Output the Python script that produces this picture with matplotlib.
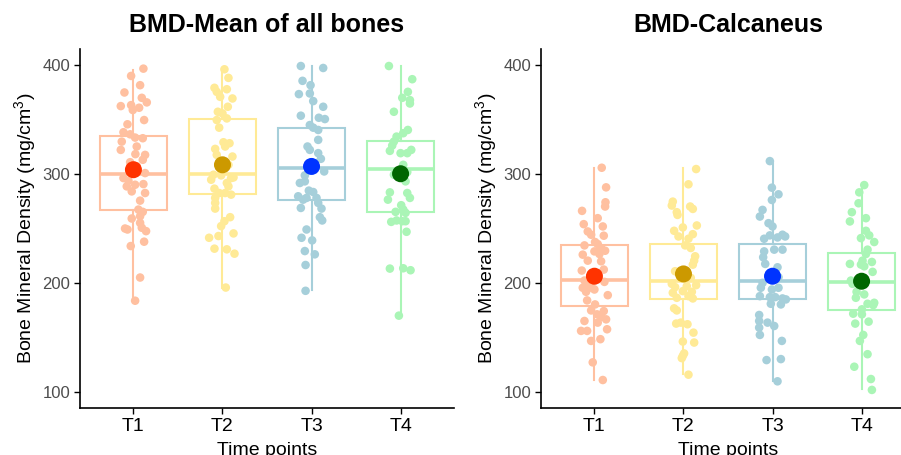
import matplotlib
matplotlib.use("Agg")
import matplotlib.pyplot as plt

plt.rcParams['font.family'] = ['Liberation Sans', 'DejaVu Sans']
plt.rcParams['mathtext.fontset'] = 'custom'
plt.rcParams['mathtext.rm'] = 'Liberation Sans'
plt.rcParams['mathtext.it'] = 'Liberation Sans:italic'

time_points = ["T1", "T2", "T3", "T4"]
titles = ["BMD-Mean of all bones", "BMD-Calcaneus"]
y_ticks = [100, 200, 300, 400]

point_colors = ["#FFC0A0", "#FFEA96", "#A6CFDA", "#AAF5B6"]
mean_colors = ["#FF3300", "#CC9900", "#0033FF", "#006600"]

# ---------------- BMD-Mean of all bones ----------------
bones_T1 = [396.6, 389.9, 381.4, 374.7, 369.8, 365.6, 362.2, 363.1, 360.7, 358.6,
            349.4, 345.5, 338.2, 336.3, 333.3, 332.7, 329.6, 325.1, 322.0, 317.4,
            318.1, 312.9, 310.7, 306.8, 300.7, 296.1, 293.7, 290.6, 288.5, 290.0,
            282.4, 283.9, 275.4, 267.2, 265.1, 261.1, 259.0, 255.0, 249.8, 248.9,
            250.5, 247.4, 237.7, 233.7, 204.8, 183.5]
bones_T1_jit = [0.112, -0.026, 0.075, -0.101, 0.094, 0.150, -0.142, -0.026, 0.064, -0.007,
                0.120, -0.067, -0.112, -0.037, 0.019, 0.105, -0.131, 0.037, -0.142, 0.131,
                0.022, 0.105, -0.037, 0.037, 0.131, -0.112, -0.056, 0.112, -0.075, 0.019,
                0.131, -0.019, 0.075, 0.056, 0.105, 0.075, -0.019, 0.075, -0.094, -0.067,
                0.094, 0.142, 0.120, -0.030, 0.075, 0.019]
bones_T2 = [396.0, 388.1, 379.0, 377.7, 375.3, 370.7, 369.2, 361.6, 357.0, 355.5,
            349.4, 350.9, 342.4, 329.0, 328.1, 322.9, 325.1, 315.9, 317.4, 308.3,
            299.2, 294.6, 298.6, 296.1, 291.6, 296.7, 288.5, 286.4, 282.4, 282.4,
            280.9, 277.9, 273.3, 268.1, 260.2, 256.5, 252.0, 245.3, 241.3, 242.9,
            231.3, 230.7, 226.7, 195.6]
bones_T2_jit = [0.022, 0.067, -0.090, 0.049, -0.064, -0.026, 0.112, 0.060, -0.052, 0.000,
                -0.064, 0.049, -0.037, 0.011, 0.079, -0.082, 0.030, 0.112, -0.064, 0.067,
                -0.101, -0.127, -0.015, 0.097, 0.049, 0.124, 0.067, -0.090, -0.037, 0.030,
                0.097, -0.082, -0.082, -0.082, 0.086, 0.022, -0.015, 0.124, -0.150, -0.045,
                -0.090, 0.049, 0.135, 0.037]
bones_T3 = [399.0, 397.2, 385.4, 381.4, 373.2, 373.8, 366.8, 361.6, 353.4, 351.5,
            350.3, 344.8, 342.4, 340.3, 331.2, 325.1, 322.0, 319.0, 313.8, 309.8,
            302.2, 298.6, 291.6, 293.1, 284.6, 283.3, 279.4, 276.3, 277.9, 277.9,
            273.3, 268.7, 268.1, 260.2, 257.2, 248.9, 241.3, 238.9, 229.1, 226.1,
            216.3, 192.6]
bones_T3_jit = [-0.120, 0.131, -0.101, -0.011, -0.142, -0.019, 0.019, 0.131, -0.120, 0.082,
                0.150, -0.019, 0.019, 0.075, 0.075, -0.045, -0.019, 0.075, 0.105, 0.037,
                0.142, -0.075, -0.131, -0.075, -0.030, 0.019, -0.150, -0.094, -0.056, 0.056,
                0.075, -0.120, 0.112, 0.094, 0.120, -0.056, -0.112, 0.007, -0.075, 0.037,
                -0.067, -0.067]
bones_T4 = [399.0, 386.9, 375.3, 369.8, 367.7, 364.6, 357.0, 340.3, 337.3, 334.2,
            329.6, 326.0, 321.1, 319.0, 319.0, 322.0, 308.3, 301.6, 299.2, 293.1,
            283.0, 276.3, 282.4, 277.9, 271.2, 267.2, 265.1, 264.2, 257.2, 255.9,
            256.5, 256.5, 246.8, 213.0, 213.3, 211.5, 169.8]
bones_T4_jit = [-0.131, 0.131, 0.082, 0.019, 0.105, 0.105, -0.075, 0.082, 0.030, -0.045,
                -0.075, -0.094, -0.120, 0.000, 0.075, 0.120, 0.030, 0.075, -0.075, 0.056,
                -0.120, -0.142, 0.075, 0.105, 0.007, 0.030, -0.056, 0.056, -0.045, -0.105,
                0.056, 0.019, 0.067, -0.120, 0.030, 0.112, -0.019]

bones_q1 = [267.2, 281.5, 276.3, 265.1]
bones_median = [299.8, 300.1, 305.3, 304.4]
bones_q3 = [335.1, 350.3, 342.4, 330.3]
bones_whislo = [184.0, 195.6, 193.0, 170.0]
bones_whishi = [395.0, 396.0, 399.0, 399.0]
bones_mean = [303.8, 308.3, 306.8, 300.1]

# ---------------- BMD-Calcaneus ----------------
calc_T1 = [305.6, 287.6, 273.9, 270.0, 266.0, 259.3, 253.8, 251.7, 247.1, 244.1,
           243.2, 237.4, 234.3, 235.5, 231.9, 228.8, 225.8, 226.4, 229.4, 220.3,
           219.7, 212.1, 211.2, 200.8, 202.0, 197.8, 195.4, 195.4, 191.7, 193.8,
           188.6, 183.8, 180.1, 174.6, 174.0, 171.0, 168.6, 166.4, 164.9, 163.4,
           157.3, 155.8, 155.8, 146.6, 148.2, 126.9, 110.7]
calc_T1_jit = [0.082, 0.131, 0.124, 0.120, -0.139, 0.037, -0.120, 0.094, -0.075, -0.037,
               0.105, 0.007, -0.112, 0.037, 0.075, 0.000, -0.131, 0.056, 0.120, -0.075,
               0.075, 0.105, -0.142, 0.112, -0.112, -0.075, -0.131, -0.030, -0.094, 0.000,
               0.150, -0.082, 0.007, -0.037, 0.105, 0.030, 0.075, 0.131, -0.112, 0.037,
               0.142, -0.150, -0.082, -0.037, 0.067, -0.019, 0.094]
calc_T2 = [304.4, 290.4, 274.5, 270.9, 270.0, 267.8, 264.8, 262.3, 250.8, 252.6,
           247.7, 244.6, 242.5, 240.4, 234.3, 231.9, 224.3, 220.3, 216.6, 210.6,
           204.5, 199.0, 197.8, 196.0, 196.9, 192.3, 191.7, 190.8, 187.7, 186.2,
           185.6, 176.5, 174.6, 162.5, 163.4, 161.9, 154.2, 145.1, 146.0, 135.1,
           132.9, 130.8, 115.6]
calc_T2_jit = [0.142, 0.056, -0.120, -0.131, 0.075, 0.105, -0.075, -0.067, -0.007, 0.150,
               -0.105, 0.105, -0.056, 0.056, 0.019, 0.082, 0.131, 0.120, 0.105, -0.094,
               0.082, -0.131, 0.142, -0.094, 0.037, -0.007, 0.094, -0.120, 0.056, -0.075,
               0.105, -0.105, -0.075, -0.082, -0.030, 0.045, 0.112, 0.120, -0.007, 0.007,
               -0.007, -0.019, 0.056]
calc_T3 = [311.7, 287.3, 281.2, 276.0, 266.9, 260.8, 254.7, 251.7, 243.5, 240.4,
           241.6, 244.1, 242.5, 230.4, 230.4, 228.8, 223.4, 217.3, 214.2, 205.1,
           199.9, 195.4, 193.8, 195.4, 187.7, 186.8, 186.8, 185.6, 184.7, 180.1,
           180.7, 170.4, 164.9, 163.4, 158.8, 160.3, 152.1, 146.6, 129.0, 129.9,
           109.5]
calc_T3_jit = [-0.030, -0.007, 0.067, -0.007, -0.112, -0.142, -0.045, 0.000, -0.030, -0.094,
               0.056, 0.112, 0.142, 0.019, 0.112, -0.094, -0.105, -0.082, 0.056, 0.067,
               -0.112, -0.131, -0.007, 0.067, -0.142, -0.030, 0.030, 0.112, 0.150, 0.094,
               -0.019, -0.150, -0.150, -0.056, -0.150, 0.019, -0.142, 0.105, -0.067, 0.094,
               0.056]
calc_T4 = [289.7, 283.0, 273.0, 264.8, 259.3, 256.3, 247.7, 243.5, 241.0, 237.4,
           230.4, 226.4, 220.3, 219.1, 217.3, 216.7, 215.1, 210.0, 202.0, 199.0,
           191.7, 189.3, 186.2, 180.7, 181.6, 179.5, 175.6, 171.6, 171.0, 164.3,
           162.5, 152.1, 146.6, 134.4, 122.9, 111.6, 101.6]
calc_T4_jit = [0.030, -0.026, -0.034, -0.109, 0.049, -0.131, 0.049, 0.086, -0.007, 0.142,
               0.067, 0.049, 0.011, 0.116, -0.131, -0.007, 0.030, 0.124, -0.120, -0.101,
               -0.056, 0.030, -0.064, 0.067, 0.142, 0.131, 0.004, -0.094, 0.004, 0.079,
               -0.071, 0.019, -0.019, 0.067, -0.082, 0.105, 0.116]

calc_q1 = [178.6, 184.7, 184.7, 174.6]
calc_median = [202.7, 202.0, 202.0, 200.5]
calc_q3 = [234.3, 235.5, 235.5, 227.3]
calc_whislo = [110.7, 116.0, 110.0, 102.0]
calc_whishi = [305.0, 305.0, 311.0, 291.0]
calc_mean = [206.0, 208.1, 206.0, 201.4]

panels = [
    dict(title=titles[0], pts=[bones_T1, bones_T2, bones_T3, bones_T4],
         jit=[bones_T1_jit, bones_T2_jit, bones_T3_jit, bones_T4_jit],
         q1=bones_q1, med=bones_median, q3=bones_q3, lo=bones_whislo, hi=bones_whishi,
         mean=bones_mean),
    dict(title=titles[1], pts=[calc_T1, calc_T2, calc_T3, calc_T4],
         jit=[calc_T1_jit, calc_T2_jit, calc_T3_jit, calc_T4_jit],
         q1=calc_q1, med=calc_median, q3=calc_q3, lo=calc_whislo, hi=calc_whishi,
         mean=calc_mean),
]

W, H = 901, 455
fig = plt.figure(figsize=(W / 100, H / 100), dpi=100)
fig.patch.set_facecolor("white")

axes_px = [(80, 454), (541, 915)]
top_px, bot_px = 48.6, 408

for (x0, x1), p in zip(axes_px, panels):
    ax = fig.add_axes([x0 / W, 1 - bot_px / H, (x1 - x0) / W, (bot_px - top_px) / H])
    positions = list(range(1, 5))
    for i in range(4):
        stats = [dict(med=p["med"][i], q1=p["q1"][i], q3=p["q3"][i],
                      whislo=p["lo"][i], whishi=p["hi"][i], fliers=[])]
        c = point_colors[i]
        ax.bxp(stats, positions=[positions[i]], widths=0.75, showcaps=False,
               showfliers=False, patch_artist=True,
               boxprops=dict(facecolor="none", edgecolor=c, linewidth=1.5),
               whiskerprops=dict(color=c, linewidth=1.5),
               medianprops=dict(color=c, linewidth=2.6),
               zorder=1)
        xs = [positions[i] + j for j in p["jit"][i]]
        ax.scatter(xs, p["pts"][i], s=38, color=c, edgecolors="none", zorder=2)
        ax.scatter([positions[i]], [p["mean"][i]], s=150, color=mean_colors[i],
                   edgecolors="none", zorder=3)

    ax.set_xlim(0.4, 4.6)
    ax.set_ylim(85, 415)
    ax.set_xticks(positions)
    ax.set_xticklabels(time_points, fontsize=14, color="black")
    ax.set_yticks(y_ticks)
    ax.set_yticklabels([str(v) for v in y_ticks], fontsize=12, color="#4D4D4D")
    ax.tick_params(axis="both", length=4, width=1.0, color="black", pad=3)
    for s in ["top", "right"]:
        ax.spines[s].set_visible(False)
    for s in ["left", "bottom"]:
        ax.spines[s].set_linewidth(1.2)
        ax.spines[s].set_color("black")
    ax.set_facecolor("white")
    ax.set_xlabel("Time points", fontsize=14, labelpad=5)
    ax.set_ylabel("Bone Mineral Density (mg/cm$^{3}$)", fontsize=14, labelpad=3)
    ax.set_title(p["title"], fontsize=18, fontweight="bold", pad=12)

fig.savefig("out.png", dpi=100, facecolor="white")
